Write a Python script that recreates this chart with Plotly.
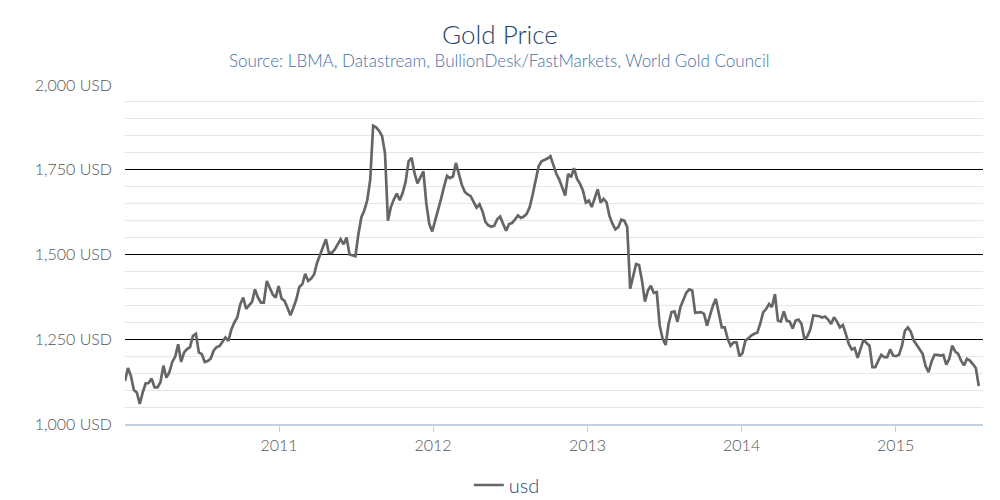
import pandas as pd
import plotly.graph_objects as go

start_date = "2010-01-01"
usd = [
    1127, 1165, 1142, 1100, 1093, 1059, 1093, 1120, 1121, 1134,
    1108, 1108, 1123, 1172, 1137, 1152, 1183, 1199, 1235, 1183,
    1211, 1221, 1227, 1260, 1266, 1211, 1206, 1183, 1186, 1193,
    1216, 1227, 1230, 1242, 1255, 1245, 1279, 1299, 1314, 1353,
    1373, 1340, 1350, 1360, 1397, 1373, 1358, 1358, 1422, 1402,
    1382, 1373, 1407, 1370, 1363, 1343, 1321, 1343, 1368, 1404,
    1412, 1443, 1422, 1429, 1441, 1475, 1500, 1520, 1545, 1505,
    1505, 1515, 1530, 1545, 1530, 1550, 1500, 1497, 1495, 1560,
    1610, 1630, 1660, 1720, 1880, 1875, 1865, 1850, 1800, 1600,
    1640, 1662, 1680, 1660, 1682, 1715, 1775, 1785, 1740, 1710,
    1730, 1745, 1650, 1590, 1568, 1600, 1625, 1665, 1700, 1732,
    1725, 1730, 1770, 1735, 1706, 1685, 1677, 1672, 1655, 1638,
    1648, 1628, 1596, 1586, 1582, 1585, 1604, 1612, 1590, 1570,
    1590, 1593, 1603, 1615, 1608, 1612, 1620, 1640, 1677, 1720,
    1760, 1775, 1778, 1783, 1790, 1763, 1738, 1721, 1699, 1674,
    1738, 1728, 1755, 1723, 1709, 1689, 1653, 1659, 1640, 1669,
    1692, 1653, 1664, 1654, 1613, 1591, 1574, 1581, 1603, 1600,
    1581, 1399, 1436, 1472, 1469, 1423, 1361, 1394, 1408, 1387,
    1389, 1290, 1251, 1233, 1295, 1330, 1332, 1302, 1345, 1369,
    1387, 1397, 1394, 1328, 1328, 1330, 1325, 1290, 1320, 1349,
    1369, 1330, 1285, 1285, 1251, 1231, 1241, 1241, 1200, 1209,
    1246, 1253, 1261, 1266, 1269, 1295, 1329, 1339, 1354, 1345,
    1383, 1305, 1302, 1332, 1305, 1302, 1282, 1305, 1308, 1295,
    1249, 1259, 1280, 1320, 1320, 1318, 1314, 1317, 1308, 1295,
    1315, 1302, 1285, 1292, 1266, 1236, 1220, 1224, 1195, 1226,
    1249, 1239, 1231, 1168, 1168, 1187, 1204, 1197, 1197, 1220,
    1202, 1200, 1204, 1231, 1275, 1285, 1272, 1246, 1234, 1220,
    1207, 1171, 1153, 1184, 1204, 1204, 1202, 1204, 1175, 1192,
    1231, 1214, 1207, 1187, 1173, 1192, 1187, 1177, 1165, 1112,
]
dates = pd.date_range(start_date, periods=len(usd), freq="7D")

y_ticks = [1000, 1250, 1500, 1750, 2000]
y_ticklabels = ["1,000 USD", "1,250 USD", "1,500 USD", "1,750 USD", "2,000 USD"]
x_ticks = ["2011-01-01", "2012-01-01", "2013-01-01", "2014-01-01", "2015-01-01"]
x_ticklabels = ["2011", "2012", "2013", "2014", "2015"]
title_text = "Gold Price"
subtitle_text = "Source: LBMA, Datastream, BullionDesk/FastMarkets, World Gold Council"
series_name = "usd"

FONT = "Lato"

fig = go.Figure()
fig.add_trace(go.Scatter(
    x=dates, y=usd, mode="lines", name=series_name,
    line=dict(color="#666666", width=2.7),
))

fig.update_layout(
    width=1000, height=500,
    margin=dict(l=125, r=17, t=85, b=76, autoexpand=False),
    paper_bgcolor="white", plot_bgcolor="white",
    font=dict(family=FONT, color="#606060"),
    title=dict(text=title_text, x=0.5, xanchor="center", y=0.93, yanchor="middle",
               font=dict(family=FONT, size=26, color="#24456b", weight=300)),
    annotations=[dict(text=subtitle_text, xref="paper", yref="paper",
                      x=0.437, y=1.071, xanchor="center", yanchor="middle",
                      showarrow=False,
                      font=dict(family=FONT, size=17, color="#4470a8", weight=300))],
    showlegend=True,
    legend=dict(orientation="h", x=0.445, xanchor="center", y=-0.18, yanchor="middle",
                font=dict(family=FONT, size=20, color="#274b6d", weight=300)),
)

fig.update_xaxes(
    type="date", automargin=False,
    range=["2010-01-01", "2015-07-27"],
    tickvals=x_ticks, ticktext=x_ticklabels,
    showgrid=False,
    showline=True, linecolor="#C0D0E0", linewidth=2,
    ticks="outside", ticklen=6, tickcolor="#C0D0E0", tickwidth=1,
    tickfont=dict(family=FONT, size=16, color="#555555", weight=300),
    zeroline=False,
)
fig.update_yaxes(
    range=[1000, 2000], automargin=False,
    tickvals=y_ticks, ticktext=y_ticklabels,
    showgrid=True, gridcolor="#000000", gridwidth=1.3,
    minor=dict(dtick=50, showgrid=True, gridcolor="#e6e6e6", gridwidth=1),
    tickfont=dict(family=FONT, size=16, color="#555555", weight=300),
    ticklabelstandoff=12,
    zeroline=False, showline=False,
)

fig.write_html("out.html", config={"displayModeBar": False},
               post_script="document.body.style.margin='0';")
